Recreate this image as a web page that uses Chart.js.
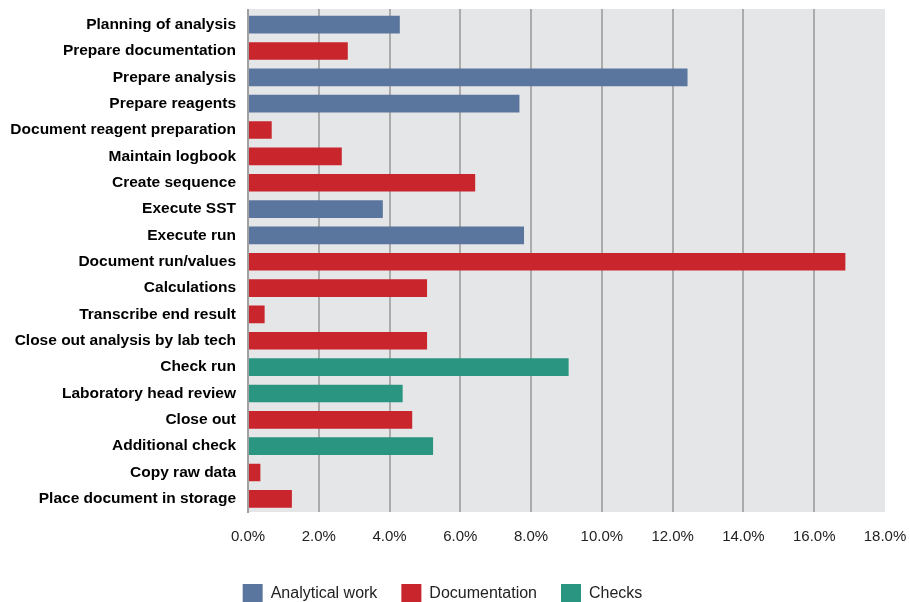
<!DOCTYPE html>
<html>
<head>
<meta charset="utf-8">
<script src="https://cdn.jsdelivr.net/npm/chart.js@4/dist/chart.umd.min.js"></script>
<style>
html,body{margin:0;padding:0;background:#fff;}
#wrap{width:910px;height:602px;position:relative;}
</style>
</head>
<body>
<div id="wrap"><canvas id="c" width="910" height="602"></canvas></div>
<script>
const categories = [
  "Planning of analysis","Prepare documentation","Prepare analysis","Prepare reagents",
  "Document reagent preparation","Maintain logbook","Create sequence","Execute SST",
  "Execute run","Document run/values","Calculations","Transcribe end result",
  "Close out analysis by lab tech","Check run","Laboratory head review","Close out",
  "Additional check","Copy raw data","Place document in storage"
];
const analyticalWork = [4.29,null,12.42,7.67,null,null,null,3.81,7.80,null,null,null,null,null,null,null,null,null,null];
const documentation  = [null,2.82,null,null,0.67,2.65,6.42,null,null,16.88,5.06,0.47,5.06,null,null,4.64,null,0.35,1.24];
const checks         = [null,null,null,null,null,null,null,null,null,null,null,null,null,9.06,4.37,null,5.23,null,null];
const xTicks = [0,2,4,6,8,10,12,14,16,18];

const EXTRA_TOP = 2.5;
const bgPlugin = {
  id:'plotBg',
  beforeDraw(chart){
    const {ctx, chartArea:a, scales} = chart;
    ctx.save();
    ctx.fillStyle = '#e5e6e8';
    ctx.fillRect(a.left, a.top-EXTRA_TOP, a.right-a.left, a.bottom-a.top+EXTRA_TOP);
    ctx.strokeStyle = '#ababab';
    ctx.lineWidth = 2;
    xTicks.forEach(v=>{
      if (v===0 || v===18) return;
      const x = Math.round(scales.x.getPixelForValue(v));
      ctx.beginPath(); ctx.moveTo(x, a.top-EXTRA_TOP); ctx.lineTo(x, a.top+1); ctx.stroke();
    });
    ctx.strokeStyle = '#a0a0a0';
    ctx.beginPath(); ctx.moveTo(a.left, a.top-EXTRA_TOP); ctx.lineTo(a.left, a.top+1); ctx.stroke();
    ctx.restore();
  }
};

new Chart(document.getElementById('c'), {
  type:'bar',
  data:{
    labels:categories,
    datasets:[
      {label:'Analytical work', data:analyticalWork, backgroundColor:'#5b769e'},
      {label:'Documentation', data:documentation, backgroundColor:'#c9252d'},
      {label:'Checks', data:checks, backgroundColor:'#2a9580'}
    ]
  },
  options:{
    indexAxis:'y',
    responsive:false,
    animation:false,
    layout:{padding:{top:11.5,right:25,left:0,bottom:-12}},
    datasets:{bar:{barPercentage:0.67,categoryPercentage:1}},
    scales:{
      x:{
        stacked:true, min:0, max:18,
        afterBuildTicks(axis){ axis.ticks = xTicks.map(v=>({value:v})); },
        afterFit(axis){ axis.height = 48; axis.paddingLeft = 0; axis.paddingRight = 0; },
        ticks:{
          callback:v=>v.toFixed(1)+'%',
          color:'#222', padding:16,
          font:{family:'"Liberation Sans", Arial, sans-serif', size:15}
        },
        grid:{
          drawTicks:false,
          color:ctx=> (ctx.tick && (ctx.tick.value===18 || ctx.tick.value===0)) ? 'rgba(0,0,0,0)' : '#ababab',
          lineWidth:2
        },
        border:{display:false}
      },
      y:{
        stacked:true,
        afterFit(axis){ axis.width = 248; axis.paddingTop = 0; axis.paddingBottom = 0; },
        ticks:{
          color:'#000', padding:12,
          font:{family:'"Liberation Sans", Arial, sans-serif', size:15.5, weight:'bold'}
        },
        grid:{display:false, drawTicks:false},
        border:{display:true, color:'#a0a0a0', width:2}
      }
    },
    plugins:{
      legend:{
        position:'bottom',
        labels:{
          boxWidth:20, boxHeight:20, padding:24, color:'#222',
          font:{family:'"Liberation Sans", Arial, sans-serif', size:16}
        }
      },
      tooltip:{enabled:false}
    }
  },
  plugins:[bgPlugin]
});
</script>
</body>
</html>
